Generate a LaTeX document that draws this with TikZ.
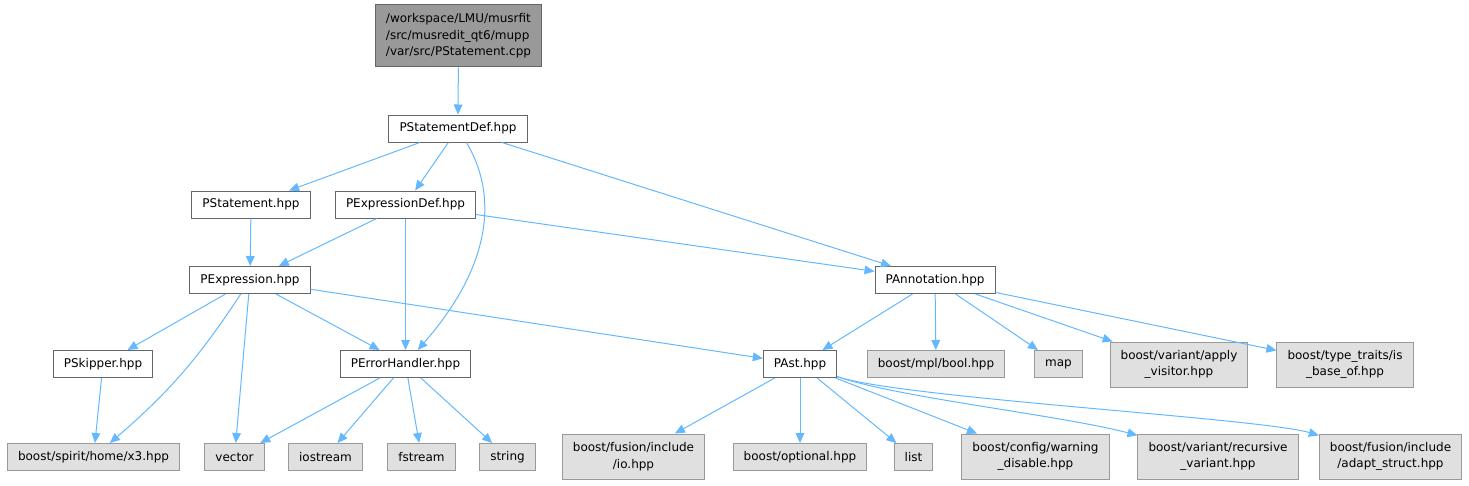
\documentclass[tikz,border=0pt]{standalone}
\usepackage{fontspec}
\setmainfont{DejaVu Sans}
\usetikzlibrary{arrows.meta}

\begin{document}
\begin{tikzpicture}[x=0.75pt, y=-0.75pt,
        every node/.style={font=\fontsize{9}{12.5}\selectfont, inner xsep=7.9pt, inner ysep=2pt, minimum height=20.25pt, align=center},
        filebox/.style={draw=grey40, fill=white, line width=0.75pt},
        extbox/.style={draw=grey60, fill=extgray, line width=0.75pt},
        rootbox/.style={draw=grey40, fill=grey60, line width=0.75pt, align=left, minimum height=46.5pt},
        twoline/.style={minimum height=33.75pt},
        dep/.style={draw=edgeblue, line width=0.75pt, -{Triangle[length=7.5pt, width=6.5pt]}}]
        \definecolor{grey40}{RGB}{102,102,102}
        \definecolor{grey60}{RGB}{153,153,153}
        \definecolor{extgray}{RGB}{224,224,224}
        \definecolor{edgeblue}{RGB}{99,184,255}

        \useasboundingbox (0,0) rectangle (1469,485);

        % The source file at the top
        \node[rootbox] (root) at (458.5,36) {/workspace/LMU/musrfit\\/src/musredit\_qt6/mupp\\/var/src/PStatement.cpp};

        % Project headers
        \node[filebox] (stmtdef) at (458,128.5) {PStatementDef.hpp};
        \node[filebox] (stmt) at (251,204.5) {PStatement.hpp};
        \node[filebox] (exprdef) at (405.5,204.5) {PExpressionDef.hpp};
        \node[filebox] (expr) at (250,280) {PExpression.hpp};
        \node[filebox] (annot) at (935,280) {PAnnotation.hpp};
        \node[filebox] (skipper) at (103,364) {PSkipper.hpp};
        \node[filebox] (errh) at (405.5,364) {PErrorHandler.hpp};
        \node[filebox] (ast) at (800,364) {PAst.hpp};

        % External headers, middle row
        \node[extbox] (mplbool) at (936,364) {boost/mpl/bool.hpp};
        \node[extbox] (map) at (1058.5,364) {map};
        \node[extbox, twoline] (applyvis) at (1179,364.5) {boost/variant/apply\\\_visitor.hpp};
        \node[extbox, twoline] (isbase) at (1345,364.5) {boost/type\_traits/is\\\_base\_of.hpp};

        % External headers, bottom row
        \node[extbox] (x3) at (93.5,457) {boost/spirit/home/x3.hpp};
        \node[extbox] (vec) at (234.5,457) {vector};
        \node[extbox] (iostr) at (325.5,457) {iostream};
        \node[extbox] (fstr) at (421.5,457) {fstream};
        \node[extbox] (str) at (507.5,457) {string};
        \node[extbox, twoline] (fusionio) at (633.5,456.5) {boost/fusion/include\\/io.hpp};
        \node[extbox] (optional) at (800,457) {boost/optional.hpp};
        \node[extbox] (list) at (913.5,457) {list};
        \node[extbox, twoline] (warndis) at (1035.5,456.5) {boost/config/warning\\\_disable.hpp};
        \node[extbox, twoline] (recvar) at (1218,456.5) {boost/variant/recursive\\\_variant.hpp};
        \node[extbox, twoline] (adapt) at (1390.5,456.5) {boost/fusion/include\\/adapt\_struct.hpp};

        % Includes of the source and of PStatementDef.hpp
        \draw[dep] (root) -- (stmtdef);
        \draw[dep] (stmtdef) -- (stmt);
        \draw[dep] (stmtdef) -- (exprdef);
        \draw[dep] (stmtdef) .. controls (498,195) and (492,265) .. (errh);
        \draw[dep] (stmtdef) -- (annot);

        % PStatement.hpp and PExpressionDef.hpp
        \draw[dep] (stmt) -- (expr);
        \draw[dep] (exprdef) -- (expr);
        \draw[dep] (exprdef) -- (errh);
        \draw[dep] (exprdef) -- (annot);

        % PExpression.hpp
        \draw[dep] (expr) -- (skipper);
        \draw[dep] (expr) to[bend left=8] (x3);
        \draw[dep] (expr) -- (vec);
        \draw[dep] (expr) -- (errh);
        \draw[dep] (expr) -- (ast);
        \draw[dep] (skipper) -- (x3);

        % PErrorHandler.hpp
        \draw[dep] (errh) -- (vec);
        \draw[dep] (errh) -- (iostr);
        \draw[dep] (errh) -- (fstr);
        \draw[dep] (errh) -- (str);

        % PAnnotation.hpp
        \draw[dep] (annot) -- (ast);
        \draw[dep] (annot) -- (mplbool);
        \draw[dep] (annot) -- (map);
        \draw[dep] (annot) -- (applyvis);
        \draw[dep] (annot) -- (isbase);

        % PAst.hpp
        \draw[dep] (ast) -- (fusionio);
        \draw[dep] (ast) -- (optional);
        \draw[dep] (ast) -- (list);
        \draw[dep] (ast) -- (warndis);
        \draw[dep] (ast) .. controls (900,398) and (1060,415) .. (recvar);
        \draw[dep] (ast) .. controls (900,398) and (1260,418) .. (adapt);
    \end{tikzpicture}
\end{document}
